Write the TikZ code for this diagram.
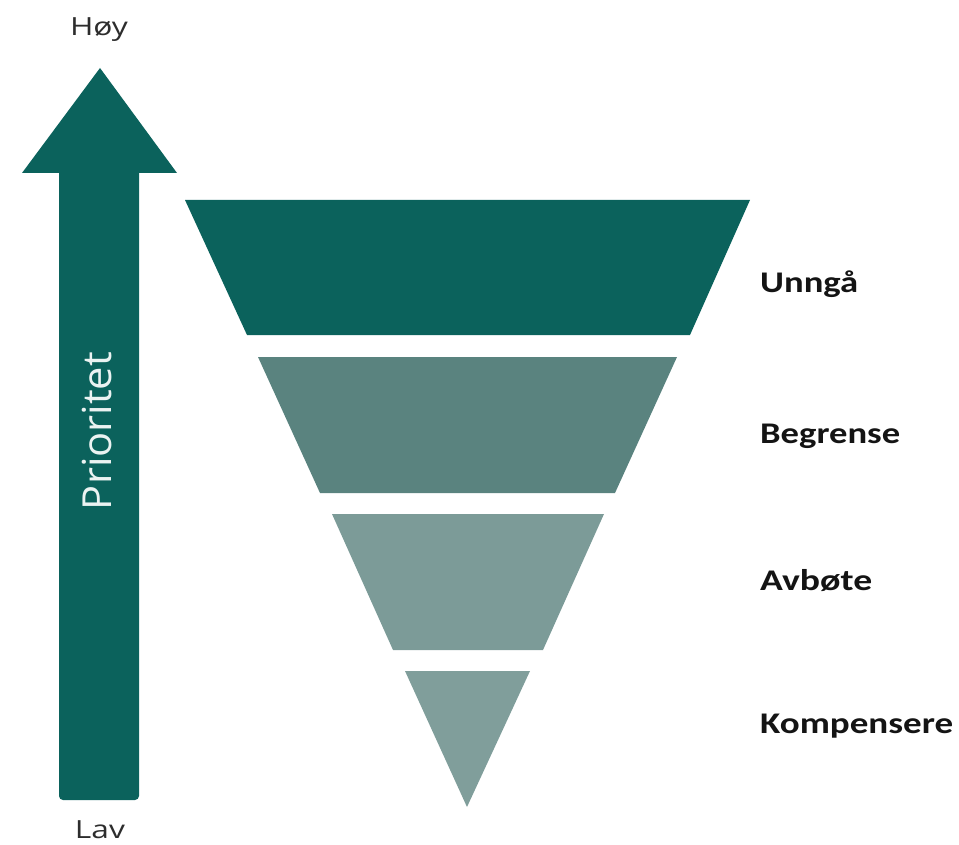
\documentclass[tikz,border=0pt]{standalone}
\usepackage{fontspec}
\setmainfont{Open Sans}
\newfontfamily\labelfont{Carlito}
\usepackage{graphicx}
\definecolor{tealA}{RGB}{11,98,92}
\definecolor{tealB}{RGB}{90,131,127}
\definecolor{tealC}{RGB}{124,155,152}
\definecolor{tealD}{RGB}{128,158,155}
\definecolor{axistext}{RGB}{45,45,45}
\newcommand\fitw[2]{\resizebox{#1}{\height}{#2}}
\tikzset{
  lvl/.style={anchor=base west, inner sep=0pt, font=\labelfont\bfseries\fontsize{30}{30}\selectfont, text=black!92},
  ends/.style={anchor=base, inner sep=0pt, font=\fontsize{25}{25}\selectfont, text=axistext},
}
\begin{document}
\begin{tikzpicture}[x=1pt,y=-1pt]
\useasboundingbox (0,0) rectangle (959,845);
% priority arrow
\fill[tealA] (100,68) -- (177,173) -- (139,173)
  [rounded corners=4pt] -- (139,800) -- (59,800) [sharp corners] -- (59,173) -- (22,173) -- cycle;
\node[anchor=base, rotate=90, inner sep=0pt, text=white!92!tealA, font=\fontsize{40}{40}\selectfont] (prio) at (111,431) {\fitw{158pt}{Prioritet}};
\node[ends] (hoy) at (99,36) {\fitw{58pt}{Høy}};
\node[ends] (lav) at (100,838) {\fitw{50pt}{Lav}};
% inverted pyramid
\fill[tealA] (185,200) -- (750,200) -- (690,335) -- (247,335) -- cycle;
\fill[tealB] (258,357) -- (677,357) -- (615,493) -- (320,493) -- cycle;
\fill[tealC] (332,514) -- (604,514) -- (543,650) -- (393,650) -- cycle;
\fill[tealD] (405,671) -- (530,671) -- (467,807) -- cycle;
% labels
\node[lvl] (unnga) at (760,292) {\fitw{98pt}{Unngå}};
\node[lvl] (begrense) at (760,443) {\fitw{140pt}{Begrense}};
\node[lvl] (avbote) at (760,590) {\fitw{112pt}{Avbøte}};
\node[lvl] (komp) at (760,733) {\fitw{193pt}{Kompensere}};
\end{tikzpicture}
\end{document}
